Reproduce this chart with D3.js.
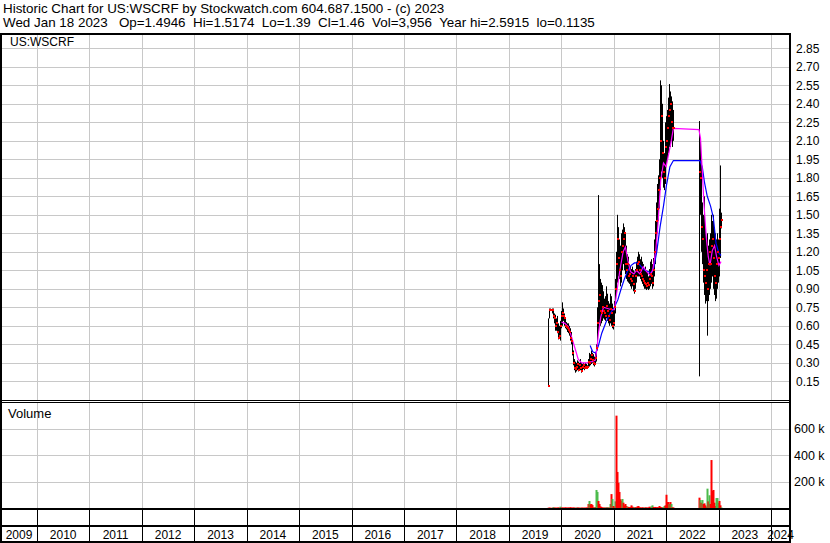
<!DOCTYPE html>
<html><head><meta charset="utf-8">
<script src="https://cdn.jsdelivr.net/npm/d3@7"></script>
<style>
body{margin:0;background:#fff}
svg{display:block}
text{font-family:"Liberation Sans",Arial,sans-serif;fill:#000;white-space:pre}
</style>
</head><body>
<svg id="chart" width="830" height="543"></svg>
<script>
const headerLine1 = "Historic Chart for US:WSCRF by Stockwatch.com 604.687.1500 - (c) 2023";
const headerLine2 = "Wed Jan 18 2023   Op=1.4946  Hi=1.5174  Lo=1.39  Cl=1.46  Vol=3,956  Year hi=2.5915  lo=0.1135";
const symbolLabel = "US:WSCRF";
const volumeLabel = "Volume";

const dates = [
"2019-10-04","2019-10-11","2019-10-18","2019-10-25","2019-11-01","2019-11-08","2019-11-15","2019-11-22","2019-11-29","2019-12-06","2019-12-13","2019-12-20","2019-12-27",
"2020-01-03","2020-01-10","2020-01-17","2020-01-24","2020-01-31","2020-02-07","2020-02-14","2020-02-21","2020-02-28","2020-03-06","2020-03-13","2020-03-20","2020-03-27",
"2020-04-03","2020-04-10","2020-04-17","2020-04-24","2020-05-01","2020-05-08","2020-05-15","2020-05-22","2020-05-29","2020-06-05","2020-06-12","2020-06-19","2020-06-26",
"2020-07-03","2020-07-10","2020-07-17","2020-07-24","2020-07-31","2020-08-07","2020-08-14","2020-08-21","2020-08-28","2020-09-04","2020-09-11","2020-09-18","2020-09-25",
"2020-10-02","2020-10-09","2020-10-16","2020-10-23","2020-10-30","2020-11-06","2020-11-13","2020-11-20","2020-11-27","2020-12-04","2020-12-11","2020-12-18","2020-12-25",
"2021-01-01","2021-01-08","2021-01-15","2021-01-22","2021-01-29","2021-02-05","2021-02-12","2021-02-19","2021-02-26","2021-03-05","2021-03-12","2021-03-19","2021-03-26",
"2021-04-02","2021-04-09","2021-04-16","2021-04-23","2021-04-30","2021-05-07","2021-05-14","2021-05-21","2021-05-28","2021-06-04","2021-06-11","2021-06-18","2021-06-25",
"2021-07-02","2021-07-09","2021-07-16","2021-07-23","2021-07-30","2021-08-06","2021-08-13","2021-08-20","2021-08-27","2021-09-03","2021-09-10","2021-09-17","2021-09-24",
"2021-10-01","2021-10-08","2021-10-15","2021-10-22","2021-10-29","2021-11-05","2021-11-12","2021-11-19","2021-11-26","2021-12-03","2021-12-10","2021-12-17","2021-12-24","2021-12-31",
"2022-01-07","2022-01-14","2022-01-21","2022-01-28","2022-02-04","2022-02-11","2022-02-18",
"2022-08-19","2022-08-26","2022-09-02","2022-09-09","2022-09-16","2022-09-23","2022-09-30","2022-10-07","2022-10-14","2022-10-21",
"2022-10-28","2022-11-04","2022-11-11","2022-11-18","2022-11-25","2022-12-02","2022-12-09","2022-12-16","2022-12-23","2022-12-30",
"2023-01-06","2023-01-13","2023-01-18"
];
const highs = [
0.66,0.74,0.74,0.74,0.74,0.70,0.69,0.66,0.68,0.62,0.60,0.64,0.72,
0.79,0.74,0.70,0.66,0.63,0.62,0.62,0.60,0.58,0.55,0.48,0.40,0.33,
0.31,0.30,0.32,0.31,0.30,0.33,0.30,0.29,0.30,0.29,0.30,0.29,0.28,
0.33,0.38,0.37,0.40,0.38,0.37,0.35,0.38,0.45,0.75,1.66,1.10,0.98,
0.95,0.93,0.88,0.82,0.84,0.92,0.86,0.80,0.78,0.86,0.84,0.78,0.74,
0.80,0.98,1.20,1.50,1.40,1.30,1.25,1.35,1.38,1.43,1.40,1.36,1.25,
1.18,1.16,1.10,1.08,1.06,1.08,1.05,1.04,1.06,1.12,1.16,1.20,1.18,
1.14,1.16,1.12,1.10,1.06,1.08,1.05,1.04,1.00,1.06,1.12,1.14,1.10,
1.15,1.30,1.45,1.60,1.75,1.82,1.95,2.59,2.55,2.40,2.10,2.00,2.25,2.30,
2.35,2.45,2.56,2.50,2.46,2.42,2.35,
2.26,2.10,1.95,1.60,1.50,1.65,1.40,1.30,1.35,1.25,
1.30,1.35,1.50,1.45,1.50,1.40,1.35,1.30,1.35,1.30,
1.55,1.90,1.5174
];
const lows = [
0.11,0.66,0.72,0.70,0.66,0.62,0.56,0.56,0.54,0.49,0.50,0.48,0.58,
0.60,0.64,0.60,0.58,0.57,0.55,0.54,0.52,0.48,0.45,0.36,0.28,0.24,
0.22,0.23,0.24,0.23,0.25,0.24,0.22,0.24,0.25,0.24,0.26,0.25,0.25,
0.26,0.27,0.28,0.29,0.30,0.28,0.27,0.29,0.31,0.40,0.55,0.62,0.60,
0.62,0.64,0.66,0.65,0.64,0.66,0.64,0.62,0.60,0.62,0.60,0.58,0.57,
0.60,0.70,0.85,0.95,1.00,0.98,0.92,0.95,1.05,1.10,1.05,1.02,0.98,
0.96,0.95,0.94,0.92,0.90,0.92,0.88,0.86,0.90,0.95,1.00,1.00,1.00,
0.98,0.96,0.94,0.92,0.90,0.90,0.89,0.90,0.89,0.90,0.92,0.94,0.90,
0.92,1.00,1.10,1.20,1.35,1.45,1.55,1.70,1.85,1.80,1.72,1.70,1.75,1.90,
1.95,2.00,2.05,2.05,2.10,2.05,2.10,
0.19,1.50,1.20,1.10,0.95,0.85,0.78,0.80,0.52,0.80,
0.85,0.90,0.95,1.00,0.90,0.85,0.80,0.82,0.90,0.95,
1.00,1.15,1.39
];
const closes = [
0.11,0.73,0.73,0.73,0.68,0.66,0.60,0.62,0.55,0.50,0.52,0.60,0.68,
0.70,0.68,0.66,0.60,0.59,0.58,0.57,0.55,0.50,0.48,0.38,0.30,0.26,
0.25,0.27,0.29,0.24,0.28,0.26,0.23,0.27,0.28,0.26,0.27,0.26,0.27,
0.31,0.30,0.33,0.36,0.32,0.30,0.29,0.34,0.42,0.62,0.80,0.85,0.72,
0.70,0.75,0.72,0.70,0.68,0.76,0.72,0.68,0.65,0.74,0.70,0.60,0.62,
0.75,0.90,1.10,1.30,1.15,1.05,1.00,1.20,1.25,1.30,1.35,1.10,1.05,
1.10,1.00,1.02,0.98,0.96,1.00,0.94,0.88,1.00,1.05,1.10,1.12,1.05,
1.02,1.00,0.98,0.96,0.95,0.94,0.92,0.95,0.93,0.98,1.02,1.00,0.95,
1.05,1.20,1.35,1.45,1.55,1.70,1.80,2.10,2.30,2.00,1.85,1.80,2.05,2.10,
2.20,2.30,2.35,2.40,2.25,2.20,2.20,
1.85,1.80,1.40,1.30,1.05,1.00,0.95,1.05,0.90,1.10,
1.20,1.10,1.25,1.30,1.15,1.00,0.95,1.10,1.20,1.15,
1.30,1.40,1.46
];
// volume in thousands of shares
const volumes = [
2,3,2,3,6,3,3,2,3,4,3,10,3,
4,3,3,5,3,3,4,3,6,3,3,4,3,
2,3,4,3,3,2,3,3,2,3,2,4,3,
30,53,28,30,22,6,3,8,136,121,53,30,12,
8,4,3,4,3,5,6,3,4,30,105,68,15,
10,50,697,272,190,121,66,55,68,40,20,30,15,
10,8,6,8,20,10,6,5,6,5,12,15,6,
4,3,5,4,3,5,4,3,4,10,8,12,20,
8,6,8,5,6,5,15,8,5,4,6,15,20,100,
45,45,30,45,30,5,4,
78,60,40,60,30,35,20,10,146,50,
96,30,362,130,136,40,15,75,75,40,
53,20,4
];
// 1 = close up (green volume), 0 = close down (red volume)
const volumeUp = [
0,0,0,0,1,0,0,0,0,0,0,1,0,
0,0,0,0,0,0,0,0,0,0,0,0,0,
0,1,0,0,0,1,0,0,0,0,0,0,0,
0,1,0,0,0,0,1,0,1,1,0,0,0,
0,0,0,0,1,0,1,0,0,1,0,1,0,
0,1,0,0,0,0,0,0,1,0,0,0,0,
1,0,0,0,0,0,0,1,0,0,0,0,0,
0,0,0,0,1,0,0,0,0,0,0,1,1,
0,0,0,0,0,0,0,0,0,0,1,1,0,0,
0,0,1,0,1,0,0,
0,1,0,1,0,0,0,0,1,0,
1,0,0,0,0,0,0,1,1,1,
0,0,1
];

const maShortDates = ["2020-01-03","2020-01-27","2020-02-20","2020-03-13","2020-04-05","2020-04-28","2020-05-22","2020-06-26","2020-07-31","2020-08-24",
"2020-09-04","2020-09-16","2020-10-02","2020-10-21","2020-11-18","2020-12-18","2021-01-05","2021-01-24","2021-02-12","2021-03-07",
"2021-03-23","2021-04-09","2021-04-27","2021-05-21","2021-06-08","2021-07-02","2021-07-25","2021-08-18","2021-09-10","2021-09-29",
"2021-10-20","2021-11-05","2021-11-24","2021-12-13","2021-12-31","2022-01-14","2022-02-02","2022-02-20","2022-08-17","2022-08-28",
"2022-09-09","2022-09-21","2022-10-07","2022-10-21","2022-11-02","2022-11-18","2022-12-04","2022-12-18","2023-01-03","2023-01-18"];
const maShortValues = [0.63,0.62,0.59,0.51,0.42,0.33,0.30,0.30,0.31,0.32,
0.40,0.54,0.67,0.75,0.74,0.73,0.73,0.89,1.05,1.20,
1.24,1.13,1.04,1.02,1.05,1.02,1.08,1.04,1.01,1.05,
1.21,1.43,1.78,1.92,1.89,1.97,2.08,2.20,2.19,2.12,
1.86,1.59,1.32,1.16,1.09,1.21,1.25,1.16,1.09,1.12];

const maLongDates = ["2020-07-20","2020-08-07","2020-08-28","2020-09-16","2020-10-09","2020-11-08","2020-12-06","2021-01-01","2021-01-29","2021-02-21",
"2021-03-16","2021-04-09","2021-05-02","2021-05-25","2021-06-18","2021-07-11","2021-08-04","2021-08-27","2021-09-20","2021-10-08",
"2021-10-27","2021-11-19","2021-12-13","2022-01-03","2022-01-27","2022-02-20","2022-08-24","2022-09-09","2022-09-25","2022-10-14",
"2022-11-06","2022-11-25","2022-12-14","2023-01-02","2023-01-18"];
const maLongValues = [0.44,0.39,0.38,0.44,0.54,0.63,0.70,0.74,0.81,0.90,
0.98,1.05,1.09,1.11,1.11,1.08,1.05,1.04,1.03,1.08,
1.20,1.40,1.57,1.74,1.89,1.94,1.94,1.89,1.76,1.65,
1.57,1.48,1.27,1.19,1.17];

const priceTicks = ["0.15","0.30","0.45","0.60","0.75","0.90","1.05","1.20","1.35","1.50","1.65","1.80","1.95","2.10","2.25","2.40","2.55","2.70","2.85"];
const volumeTicks = [200000,400000,600000];
const volumeTickLabels = ["200 k","400 k","600 k"];
const yearLabels = ["2009","2010","2011","2012","2013","2014","2015","2016","2017","2018","2019","2020","2021","2022","2023","2024"];

// ---------- layout ----------
const W = 830, H = 543;
const L = 1, R = 790;                 // panel left / right border
const headerY = 34;
const priceTop = 35, priceBottom = 400;
const volTop = 403, volBottom = 508;
const tickRowBottom = 526, labelRowBottom = 542;

const parse = d3.timeParse("%Y-%m-%d");
const svg = d3.select("#chart");

const x = d3.scaleTime()
  .domain([new Date(2010,0,1), new Date(2024,0,1)])
  .range([37, 771]);
const y = d3.scaleLinear().domain([0.15, 2.55]).range([381.3, 85.3]);
const yv = d3.scaleLinear().domain([0, 600000]).range([508, 428.5]);

const yearBounds = d3.range(2010, 2025).map(yr => new Date(yr,0,1));
const gridColor = "#c8c8c8";

// clip paths
const defs = svg.append("defs");
defs.append("clipPath").attr("id","clipP").append("rect")
  .attr("x",L+1).attr("y",priceTop).attr("width",R-L-2).attr("height",priceBottom-priceTop);
defs.append("clipPath").attr("id","clipV").append("rect")
  .attr("x",L+1).attr("y",volTop).attr("width",R-L-2).attr("height",volBottom-volTop);

// header
svg.append("text").attr("x",3).attr("y",13).attr("font-size","13.4px").text(headerLine1);
svg.append("text").attr("x",3).attr("y",27).attr("font-size","13.4px").text(headerLine2);

// ---------- price panel grid ----------
const gP = svg.append("g");
gP.selectAll("line.hg").data(priceTicks).join("line")
  .attr("x1",L+1).attr("x2",R-1)
  .attr("y1",d=>Math.round(y(+d))+0.5).attr("y2",d=>Math.round(y(+d))+0.5)
  .attr("stroke",gridColor).attr("stroke-width",1);
gP.selectAll("line.vg").data(yearBounds).join("line")
  .attr("x1",d=>Math.round(x(d))+0.5).attr("x2",d=>Math.round(x(d))+0.5)
  .attr("y1",priceTop).attr("y2",priceBottom)
  .attr("stroke",gridColor).attr("stroke-width",1);

// ---------- volume panel grid ----------
const gV = svg.append("g");
gV.selectAll("line").data(volumeTicks).join("line")
  .attr("x1",L+1).attr("x2",R-1)
  .attr("y1",d=>Math.round(yv(d))+0.5).attr("y2",d=>Math.round(yv(d))+0.5)
  .attr("stroke",gridColor);
gV.selectAll("line.vg").data(yearBounds).join("line")
  .attr("x1",d=>Math.round(x(d))+0.5).attr("x2",d=>Math.round(x(d))+0.5)
  .attr("y1",volTop).attr("y2",volBottom)
  .attr("stroke",gridColor);

// ---------- price bars ----------
const bars = dates.map((d,i)=>({date:parse(d),hi:highs[i],lo:lows[i],cl:closes[i],vol:volumes[i]*1000,up:volumeUp[i]}));
const plot = svg.append("g").attr("clip-path","url(#clipP)");
plot.selectAll("line.bar").data(bars).join("line")
  .attr("x1",d=>Math.round(x(d.date))+0.5).attr("x2",d=>Math.round(x(d.date))+0.5)
  .attr("y1",d=>y(d.hi)).attr("y2",d=>Math.max(y(d.lo), y(d.hi)+1))
  .attr("stroke","#000").attr("stroke-width",1);

// moving averages
const lineGen = d3.line().x(d=>x(d[0])).y(d=>y(d[1]));
plot.append("path")
  .datum(maLongDates.map((d,i)=>[parse(d),maLongValues[i]]))
  .attr("d",lineGen).attr("fill","none").attr("stroke","#0000ff").attr("stroke-width",1.2);
plot.append("path")
  .datum(maShortDates.map((d,i)=>[parse(d),maShortValues[i]]))
  .attr("d",lineGen).attr("fill","none").attr("stroke","#ff00ff").attr("stroke-width",1.2);

// close markers
plot.selectAll("rect.cl").data(bars).join("rect")
  .attr("x",d=>Math.round(x(d.date))).attr("y",d=>Math.round(y(d.cl))-1)
  .attr("width",2).attr("height",2).attr("fill","#ff0000");

// ---------- volume bars ----------
const vplot = svg.append("g").attr("clip-path","url(#clipV)");
vplot.selectAll("rect").data(bars).join("rect")
  .attr("x",d=>Math.round(x(d.date))-0.5).attr("width",2)
  .attr("y",d=>yv(d.vol)).attr("height",d=>Math.max(0,yv(0)-yv(d.vol)))
  .attr("fill",d=>d.up? "#4cbb4c" : "#ff0000");

// ---------- frame lines ----------
const frame = svg.append("g").attr("stroke","#000");
frame.append("line").attr("x1",0).attr("x2",R+1).attr("y1",headerY).attr("y2",headerY).attr("stroke-width",2);
frame.append("line").attr("x1",1).attr("x2",1).attr("y1",headerY-1).attr("y2",H).attr("stroke-width",2);
frame.append("line").attr("x1",R).attr("x2",R).attr("y1",headerY-1).attr("y2",H).attr("stroke-width",2);
frame.append("line").attr("x1",0).attr("x2",R).attr("y1",priceBottom+0.5).attr("y2",priceBottom+0.5).attr("stroke-width",1);
frame.append("line").attr("x1",0).attr("x2",R).attr("y1",volTop-0.5).attr("y2",volTop-0.5).attr("stroke-width",1);
frame.append("line").attr("x1",0).attr("x2",R).attr("y1",volBottom+1).attr("y2",volBottom+1).attr("stroke-width",2);
frame.append("line").attr("x1",0).attr("x2",R).attr("y1",tickRowBottom).attr("y2",tickRowBottom).attr("stroke-width",2);
frame.append("line").attr("x1",0).attr("x2",R).attr("y1",labelRowBottom).attr("y2",labelRowBottom).attr("stroke-width",2);
frame.selectAll("line.yb").data(yearBounds).join("line")
  .attr("x1",d=>Math.round(x(d))+0.5).attr("x2",d=>Math.round(x(d))+0.5)
  .attr("y1",volBottom+2).attr("y2",labelRowBottom).attr("stroke-width",1);

// ---------- labels ----------
svg.append("text").attr("x",10).attr("y",46).attr("font-size","12px").text(symbolLabel);
svg.append("text").attr("x",8).attr("y",418).attr("font-size","13px").text(volumeLabel);

svg.selectAll("text.pt").data(priceTicks).join("text")
  .attr("x",796).attr("y",d=>y(+d)+4.5).attr("font-size","12px").text(d=>d);
svg.selectAll("text.vt").data(volumeTicks).join("text")
  .attr("x",794).attr("y",(d)=>yv(d)+4.5).attr("font-size","12.5px")
  .text((d,i)=>volumeTickLabels[i]);

svg.selectAll("text.yr").data(yearLabels).join("text")
  .attr("x",d=>{
    const a = Math.max(L, x(new Date(+d,0,1)));
    const b = Math.min(R, x(new Date(+d+1,0,1)));
    return (a+b)/2;
  })
  .attr("y",539).attr("text-anchor","middle").attr("font-size","12px").text(d=>d);
</script>
</body></html>
